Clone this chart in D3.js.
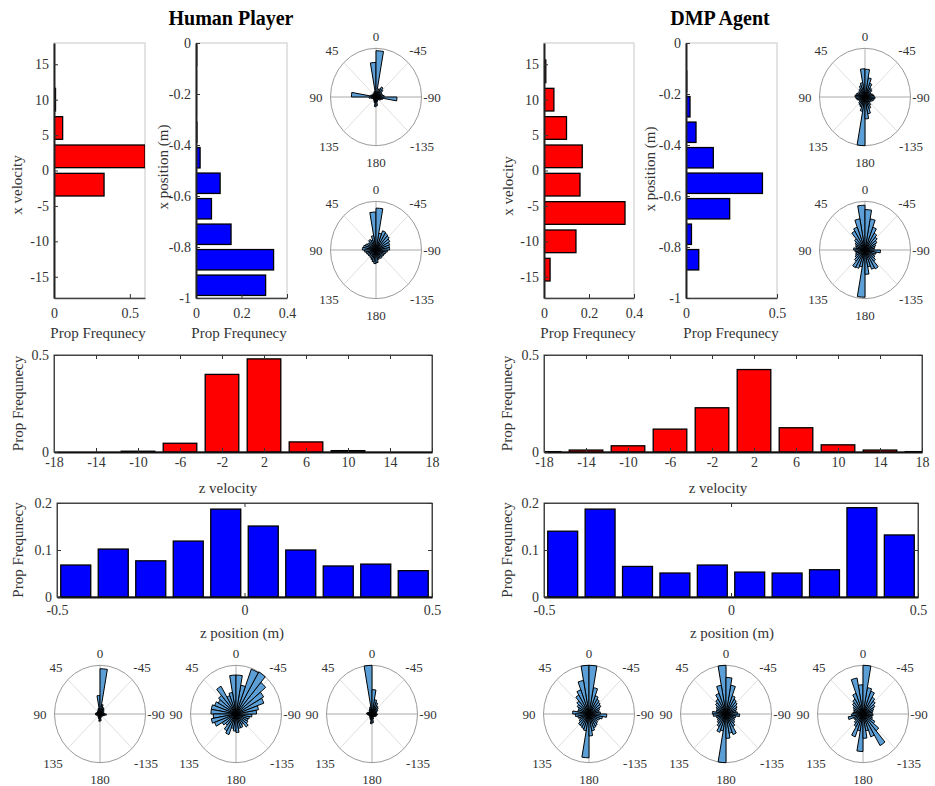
<!DOCTYPE html>
<html>
<head>
<meta charset="utf-8">
<script src="https://cdn.jsdelivr.net/npm/d3@7/dist/d3.min.js"></script>
<style>
body { margin: 0; background: #fff; }
text { font-family: "Liberation Serif", "Times New Roman", serif; fill: #333; }
.title { font-weight: bold; fill: #000; font-size: 20px; }
.lbl { font-size: 15px; }
.tick text { font-size: 14px; fill: #333; font-family: "Liberation Serif", serif; }
.plabel { font-size: 13px; fill: #333; }
</style>
</head>
<body>
<div id="vis"></div>
<script>
// ---- data ----
var titles = ["Human Player", "DMP Agent"];

// velocity histograms: bins centred on these values, 4 wide
var velBins = [-18, -14, -10, -6, -2, 2, 6, 10, 14, 18];
var humanXVel = [0, 0, 0, 0, 0.33, 0.6, 0.057, 0.01, 0, 0];
var dmpXVel = [0, 0.027, 0.142, 0.36, 0.16, 0.17, 0.10, 0.044, 0.008, 0];
var humanZVel = [0, 0, 0.004, 0.045, 0.40, 0.48, 0.052, 0.007, 0, 0];
var dmpZVel = [0.002, 0.01, 0.032, 0.118, 0.228, 0.425, 0.125, 0.037, 0.01, 0.002];

// x position histograms: bins 0.1 wide
var xPosBins = [-0.95, -0.85, -0.75, -0.65, -0.55, -0.45, -0.35, -0.25, -0.15, -0.05];
var humanXPos = [0.306, 0.341, 0.154, 0.068, 0.106, 0.018, 0.004, 0.002, 0.002, 0.003];
var dmpXPos = [0, 0.07, 0.03, 0.24, 0.42, 0.15, 0.055, 0.022, 0.004, 0.002];

// z position histograms
var zPosBins = [-0.45, -0.35, -0.25, -0.15, -0.05, 0.05, 0.15, 0.25, 0.35, 0.45];
var humanZPos = [0.068, 0.102, 0.077, 0.119, 0.187, 0.151, 0.100, 0.066, 0.070, 0.056];
var dmpZPos = [0.140, 0.187, 0.065, 0.051, 0.068, 0.053, 0.051, 0.058, 0.190, 0.132];

// tick values
var velTicksY = [-15, -10, -5, 0, 5, 10, 15];
var velTicksX = [-18, -14, -10, -6, -2, 2, 6, 10, 14, 18];
var xPosTicks = [-1, -0.8, -0.6, -0.4, -0.2, 0];
var zPosTicks = [-0.5, 0, 0.5];

// rose histograms: 36 bins of 10 deg, bin k spans [10k, 10k+10] deg (0 = up, counter-clockwise)
// values are fraction of the outer ring
var roseAngles = [0, 45, 90, 135, 180, -135, -90, -45];
var humanRoseA = [0.71, 0.12, 0.08, 0.1, 0.07, 0.08, 0.1, 0.12, 0.54, 0.15, 0.1, 0.08, 0.06, 0.07, 0.08, 0.1, 0.12, 0.2,
  0.18, 0.1, 0.08, 0.07, 0.08, 0.1, 0.12, 0.15, 0.46, 0.18, 0.15, 0.12, 0.15, 0.2, 0.24, 0.18, 0.12, 0.95];
var humanRoseB = [0.78, 0.3, 0.22, 0.25, 0.2, 0.22, 0.25, 0.28, 0.3, 0.25, 0.22, 0.2, 0.2, 0.18, 0.2, 0.22, 0.25, 0.28,
  0.26, 0.2, 0.18, 0.2, 0.18, 0.2, 0.2, 0.22, 0.25, 0.3, 0.3, 0.32, 0.35, 0.38, 0.4, 0.42, 0.35, 0.86];
var dmpRoseA = [0.58, 0.3, 0.25, 0.2, 0.18, 0.15, 0.18, 0.2, 0.22, 0.2, 0.18, 0.15, 0.15, 0.18, 0.2, 0.22, 0.3, 1.0,
  0.45, 0.35, 0.25, 0.2, 0.15, 0.15, 0.18, 0.2, 0.22, 0.2, 0.18, 0.15, 0.15, 0.2, 0.22, 0.3, 0.4, 0.57];
var dmpRoseB = [0.92, 0.65, 0.5, 0.45, 0.3, 0.25, 0.22, 0.2, 0.25, 0.22, 0.2, 0.22, 0.25, 0.3, 0.42, 0.4, 0.35, 0.97,
  0.5, 0.35, 0.42, 0.45, 0.3, 0.25, 0.22, 0.25, 0.34, 0.2, 0.22, 0.25, 0.3, 0.35, 0.4, 0.5, 0.65, 0.83];
var humanRoseC = [0.38, 0.12, 0.1, 0.08, 0.07, 0.06, 0.07, 0.08, 0.1, 0.1, 0.08, 0.06, 0.05, 0.06, 0.07, 0.08, 0.1, 0.15,
  0.14, 0.08, 0.06, 0.05, 0.06, 0.07, 0.08, 0.1, 0.14, 0.1, 0.08, 0.08, 0.1, 0.12, 0.14, 0.15, 0.2, 0.93];
var humanRoseD = [0.8, 0.45, 0.4, 0.66, 0.5, 0.45, 0.5, 0.55, 0.55, 0.5, 0.55, 0.5, 0.35, 0.3, 0.4, 0.45, 0.3, 0.35,
  0.38, 0.3, 0.3, 0.25, 0.35, 0.3, 0.28, 0.3, 0.35, 0.45, 0.5, 0.65, 0.7, 0.85, 1.0, 0.98, 0.6, 0.8];
var humanRoseE = [1.0, 0.15, 0.12, 0.1, 0.08, 0.07, 0.08, 0.1, 0.12, 0.1, 0.08, 0.07, 0.06, 0.07, 0.08, 0.1, 0.12, 0.2,
  0.18, 0.1, 0.07, 0.06, 0.07, 0.08, 0.1, 0.1, 0.12, 0.1, 0.1, 0.12, 0.15, 0.18, 0.2, 0.25, 0.3, 0.5];
var dmpRoseC = [1.0, 0.7, 0.53, 0.45, 0.35, 0.3, 0.25, 0.25, 0.36, 0.3, 0.25, 0.22, 0.25, 0.3, 0.3, 0.32, 0.35, 0.9,
  0.45, 0.35, 0.3, 0.28, 0.25, 0.22, 0.25, 0.3, 0.39, 0.25, 0.22, 0.25, 0.3, 0.32, 0.35, 0.4, 0.55, 1.0];
var dmpRoseD = [1.0, 0.6, 0.45, 0.35, 0.3, 0.25, 0.22, 0.22, 0.3, 0.28, 0.22, 0.2, 0.22, 0.25, 0.3, 0.4, 0.35, 1.0,
  0.5, 0.4, 0.45, 0.3, 0.25, 0.22, 0.2, 0.22, 0.3, 0.25, 0.22, 0.25, 0.28, 0.32, 0.35, 0.4, 0.6, 0.75];
var dmpRoseE = [0.6, 0.75, 0.45, 0.35, 0.3, 0.25, 0.22, 0.2, 0.22, 0.25, 0.33, 0.22, 0.2, 0.25, 0.3, 0.5, 0.35, 0.77,
  0.5, 0.35, 0.5, 0.75, 0.45, 0.3, 0.22, 0.2, 0.22, 0.2, 0.22, 0.25, 0.3, 0.35, 0.4, 0.5, 0.55, 1.0];

// ---- drawing ----
var width = 935;
var height = 786;
var clipId = 0;
var serif = "Liberation Serif, Times New Roman, serif";

var svg = d3
.select("#vis")
.append("svg")
.attr("width", width)
.attr("height", height);

function fmt(d) { return String(d); }

function rotLabel(txt, x, y) {
  svg.append("text")
  .attr("class", "lbl")
  .attr("transform", "translate(" + x + "," + y + ") rotate(-90)")
  .attr("text-anchor", "middle")
  .attr("dy", "0.35em")
  .text(txt);
}

function label(txt, x, y) {
  svg.append("text")
  .attr("class", "lbl")
  .attr("x", x).attr("y", y)
  .attr("text-anchor", "middle")
  .text(txt);
}

function styleAxis(g, col, w) {
  g.attr("font-family", serif).attr("font-size", 14);
  g.select(".domain").attr("stroke", col).attr("stroke-width", w);
  g.selectAll(".tick line").attr("stroke", "#333");
}

// horizontal histogram (top row)
function hBars(o) {
  var x = d3.scaleLinear().domain([0, o.xMax]).range([o.left, o.right]);
  var y = d3.scaleLinear().domain(o.yDomain).range([o.bottom, o.top]);
  var cid = "clip" + (clipId++);
  svg.append("clipPath").attr("id", cid).append("rect")
  .attr("x", o.left).attr("y", o.top).attr("width", o.right - o.left).attr("height", o.bottom - o.top);

  svg.append("rect")
  .attr("x", o.left).attr("y", o.top)
  .attr("width", o.right - o.left).attr("height", o.bottom - o.top)
  .attr("fill", "none").attr("stroke", "#c8c8c8");

  svg.append("g").attr("clip-path", "url(#" + cid + ")")
  .selectAll("rect")
  .data(o.values.map(function(v, i) { return {c: o.bins[i], v: v}; }).filter(function(d) { return d.v > 0; }))
  .enter()
  .append("rect")
  .attr("x", x(0))
  .attr("y", function(d) { return y(d.c + o.binW * 0.4); })
  .attr("width", function(d) { return x(d.v) - x(0); })
  .attr("height", function(d) { return y(d.c - o.binW * 0.4) - y(d.c + o.binW * 0.4); })
  .attr("fill", o.color)
  .attr("stroke", "#000")
  .attr("stroke-width", 1.3);

  var xa = svg.append("g")
  .attr("transform", "translate(0," + o.bottom + ")")
  .call(d3.axisBottom(x).tickValues(o.xTicks).tickSizeInner(-4).tickSizeOuter(0).tickPadding(10).tickFormat(fmt));
  styleAxis(xa, "#444", 1.5);

  var ya = svg.append("g")
  .attr("transform", "translate(" + o.left + ",0)")
  .call(d3.axisLeft(y).tickValues(o.yTicks).tickSizeInner(-4).tickSizeOuter(0).tickPadding(5).tickFormat(fmt));
  styleAxis(ya, "#222", 2);

  rotLabel(o.ylabel, o.ylabelX, o.ylabelY);
  label("Prop Frequnecy", o.xlabelX, 338);
}

// vertical histogram (middle rows)
function vBars(o) {
  var x = d3.scaleLinear().domain(o.xDomain).range([o.left, o.right]);
  var y = d3.scaleLinear().domain([0, o.yMax]).range([o.bottom, o.top]);
  var cid = "clip" + (clipId++);
  svg.append("clipPath").attr("id", cid).append("rect")
  .attr("x", o.left).attr("y", o.top).attr("width", o.right - o.left).attr("height", o.bottom - o.top);

  svg.append("rect")
  .attr("x", o.left).attr("y", o.top)
  .attr("width", o.right - o.left).attr("height", o.bottom - o.top)
  .attr("fill", "none").attr("stroke", "#444");

  svg.append("g").attr("clip-path", "url(#" + cid + ")")
  .selectAll("rect")
  .data(o.values.map(function(v, i) { return {c: o.bins[i], v: v}; }))
  .enter()
  .append("rect")
  .attr("x", function(d) { return x(d.c - o.binW * 0.4); })
  .attr("y", function(d) { return y(d.v); })
  .attr("width", function(d) { return x(d.c + o.binW * 0.4) - x(d.c - o.binW * 0.4); })
  .attr("height", function(d) { return y(0) - y(d.v); })
  .attr("fill", o.color)
  .attr("stroke", "#000")
  .attr("stroke-width", 1.3);

  // mirrored ticks on top / right
  svg.append("g")
  .attr("transform", "translate(0," + o.top + ")")
  .call(d3.axisTop(x).tickValues(o.xTicks).tickSizeInner(-4).tickSizeOuter(0).tickFormat(""))
  .call(function(g) { styleAxis(g, "#444", 1); });
  svg.append("g")
  .attr("transform", "translate(" + o.right + ",0)")
  .call(d3.axisRight(y).tickValues(o.yTicks).tickSizeInner(-4).tickSizeOuter(0).tickFormat(""))
  .call(function(g) { styleAxis(g, "#444", 1); });

  var xa = svg.append("g")
  .attr("transform", "translate(0," + o.bottom + ")")
  .call(d3.axisBottom(x).tickValues(o.xTicks).tickSizeInner(-4).tickSizeOuter(0).tickPadding(o.xPad).tickFormat(fmt));
  styleAxis(xa, "#111", 2);

  var ya = svg.append("g")
  .attr("transform", "translate(" + o.left + ",0)")
  .call(d3.axisLeft(y).tickValues(o.yTicks).tickSizeInner(-4).tickSizeOuter(0).tickPadding(5).tickFormat(fmt));
  styleAxis(ya, "#444", 1);

  rotLabel("Prop Frequnecy", o.ylabelX, (o.top + o.bottom) / 2);
  label(o.xlabel, o.xlabelX, o.xlabelY);
}

// rose (angle histogram)
var roseR = 45.5;
var roseSy = 1.07;
var labelPos = {
  "0": [0, -61], "45": [-44, -47], "90": [-60, 0], "135": [-47, 49],
  "180": [0, 65], "-135": [46, 49], "-90": [56, 0], "-45": [42, -47]
};

function rose(cx, cy, vals) {
  var g = svg.append("g").attr("transform", "translate(" + cx + "," + cy + ")");
  var inner = g.append("g").attr("transform", "scale(1," + roseSy + ")");
  var r = d3.scaleLinear().domain([0, 1]).range([0, roseR]);
  var binRad = 2 * Math.PI / vals.length;
  var toRad = Math.PI / 180;

  inner.selectAll("line")
  .data(roseAngles)
  .enter()
  .append("line")
  .attr("x1", 0).attr("y1", 0)
  .attr("x2", function(d) { return -Math.sin(d * toRad) * roseR; })
  .attr("y2", function(d) { return -Math.cos(d * toRad) * roseR; })
  .attr("stroke", function(d) { return d % 90 === 0 ? "#d4d4d4" : "#e0e0e0"; })
  .attr("stroke-width", function(d) { return d % 90 === 0 ? 1.8 : 1; })
  .attr("vector-effect", "non-scaling-stroke");

  inner.append("circle")
  .attr("r", roseR)
  .attr("fill", "none")
  .attr("stroke", "#9a9a9a")
  .attr("vector-effect", "non-scaling-stroke");

  var arc = d3.arc().innerRadius(0);
  inner.selectAll("path")
  .data(vals)
  .enter()
  .append("path")
  .attr("d", function(d, i) {
    return arc({outerRadius: r(d), startAngle: -(i + 1) * binRad, endAngle: -i * binRad});
  })
  .attr("fill", "#5b9fd6")
  .attr("stroke", "#000")
  .attr("stroke-width", 1)
  .attr("stroke-linejoin", "round")
  .attr("vector-effect", "non-scaling-stroke");

  g.selectAll("text")
  .data(roseAngles)
  .enter()
  .append("text")
  .attr("class", "plabel")
  .attr("x", function(d) { return labelPos[String(d)][0]; })
  .attr("y", function(d) { return labelPos[String(d)][1]; })
  .attr("dy", "0.35em")
  .attr("text-anchor", "middle")
  .text(function(d) { return String(d); });
}

// titles
svg.append("text").attr("class", "title").attr("x", 231).attr("y", 25).attr("text-anchor", "middle").text(titles[0]);
svg.append("text").attr("class", "title").attr("x", 720).attr("y", 25).attr("text-anchor", "middle").text(titles[1]);

// top row
hBars({left: 54, right: 145, top: 43, bottom: 298, xMax: 0.6, xTicks: [0, 0.5],
  yDomain: [-18, 18], yTicks: velTicksY, bins: velBins, binW: 4, values: humanXVel, color: "#ff0000",
  ylabel: "x velocity", ylabelX: 17, ylabelY: 185, xlabelX: 98});
hBars({left: 196, right: 287, top: 43, bottom: 298, xMax: 0.4, xTicks: [0, 0.2, 0.4],
  yDomain: [-1, 0], yTicks: xPosTicks, bins: xPosBins, binW: 0.1, values: humanXPos, color: "#0000ff",
  ylabel: "x position (m)", ylabelX: 163, ylabelY: 167, xlabelX: 239});
hBars({left: 544, right: 634, top: 43, bottom: 298, xMax: 0.4, xTicks: [0, 0.2, 0.4],
  yDomain: [-18, 18], yTicks: velTicksY, bins: velBins, binW: 4, values: dmpXVel, color: "#ff0000",
  ylabel: "x velocity", ylabelX: 508, ylabelY: 186, xlabelX: 588});
hBars({left: 686, right: 777, top: 43, bottom: 298, xMax: 0.5, xTicks: [0, 0.5],
  yDomain: [-1, 0], yTicks: xPosTicks, bins: xPosBins, binW: 0.1, values: dmpXPos, color: "#0000ff",
  ylabel: "x position (m)", ylabelX: 650, ylabelY: 169, xlabelX: 731});

rose(376, 97, humanRoseA);
rose(376, 250, humanRoseB);
rose(865, 97, dmpRoseA);
rose(865, 250, dmpRoseB);

// middle rows
vBars({left: 54, right: 432, top: 355, bottom: 452, xDomain: [-18, 18], xTicks: velTicksX, yMax: 0.5, yTicks: [0, 0.5], xPad: 5,
  bins: velBins, binW: 4, values: humanZVel, color: "#ff0000", ylabelX: 18, xlabel: "z velocity", xlabelX: 228, xlabelY: 493});
vBars({left: 57, right: 432, top: 503, bottom: 597, xDomain: [-0.5, 0.5], xTicks: zPosTicks, yMax: 0.2, yTicks: [0, 0.1, 0.2], xPad: 8,
  bins: zPosBins, binW: 0.1, values: humanZPos, color: "#0000ff", ylabelX: 18, xlabel: "z position (m)", xlabelX: 242, xlabelY: 638});
vBars({left: 544, right: 922, top: 355, bottom: 452, xDomain: [-18, 18], xTicks: velTicksX, yMax: 0.5, yTicks: [0, 0.5], xPad: 5,
  bins: velBins, binW: 4, values: dmpZVel, color: "#ff0000", ylabelX: 507, xlabel: "z velocity", xlabelX: 718, xlabelY: 493});
vBars({left: 544, right: 918, top: 503, bottom: 597, xDomain: [-0.5, 0.5], xTicks: zPosTicks, yMax: 0.2, yTicks: [0, 0.1, 0.2], xPad: 8,
  bins: zPosBins, binW: 0.1, values: dmpZPos, color: "#0000ff", ylabelX: 507, xlabel: "z position (m)", xlabelX: 732, xlabelY: 638});

// bottom row of roses
rose(100, 714, humanRoseC);
rose(236, 714, humanRoseD);
rose(372, 714, humanRoseE);
rose(589, 714, dmpRoseC);
rose(726, 714, dmpRoseD);
rose(863, 714, dmpRoseE);
</script>
</body>
</html>
